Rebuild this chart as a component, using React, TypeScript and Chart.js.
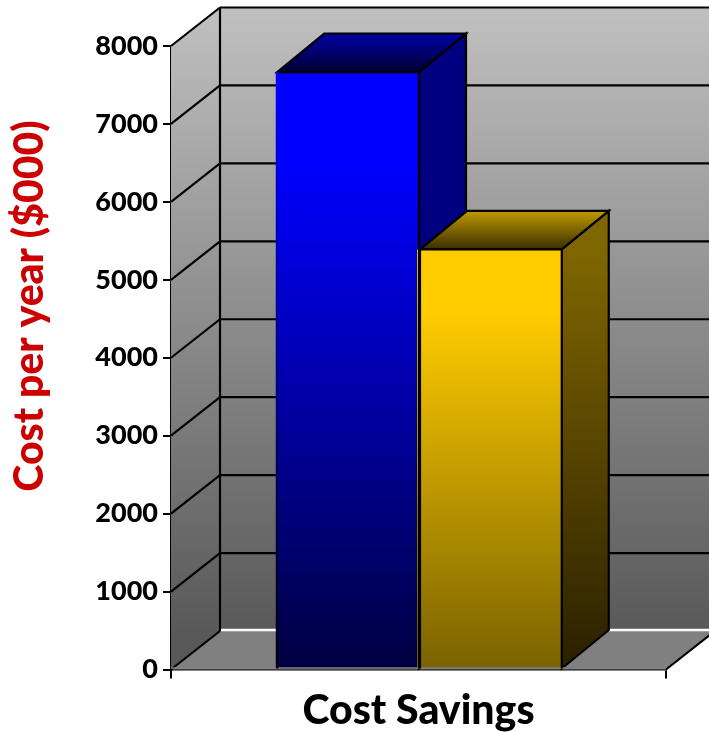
import React, { useEffect, useRef } from "react";
import { Chart, registerables } from "chart.js";

Chart.register(...registerables);

const categories = ["Cost Savings"];
const blueValues = [7666];
const yellowValues = [5390];
const yTicks = [0, 1000, 2000, 3000, 4000, 5000, 6000, 7000, 8000];
const yTitle = "Cost per year ($000)";

const DX = 49;
const DY = 38.5;
const BAR_DX = 47;
const FONT = "Lato, 'Liberation Sans', sans-serif";

const faces = [
  { side: ["#000080", "#000080"], top: ["#0000a8", "#000030"] },
  { side: ["#806600", "#2a2000"], top: ["#c09a00", "#3a2e00"] },
];

const box = (bar: any) => {
  const half = bar.width / 2;
  return { l: bar.x - half + 1.5, r: bar.x + half + 0.5, t: bar.y, b: bar.base };
};

const scene3d = {
  id: "scene3d",
  beforeDatasetsDraw(chart: any) {
    const { ctx, scales } = chart;
    const x = scales.x;
    const y = scales.y;
    const left = x.left;
    const right = x.right;
    const top = y.getPixelForValue(8000);
    const bottom = y.getPixelForValue(0);
    ctx.save();

    let g = ctx.createLinearGradient(0, top - DY, 0, bottom - DY);
    g.addColorStop(0, "#c0c0c0");
    g.addColorStop(1, "#595959");
    ctx.fillStyle = g;
    ctx.fillRect(left + DX, top - DY, right - left, bottom - top);

    ctx.beginPath();
    ctx.moveTo(left, top);
    ctx.lineTo(left + DX, top - DY);
    ctx.lineTo(left + DX, bottom - DY);
    ctx.lineTo(left, bottom);
    ctx.closePath();
    ctx.fill();

    ctx.beginPath();
    ctx.moveTo(left, bottom);
    ctx.lineTo(left + DX, bottom - DY);
    ctx.lineTo(right + DX, bottom - DY);
    ctx.lineTo(right, bottom);
    ctx.closePath();
    ctx.fillStyle = "#808080";
    ctx.fill();

    ctx.lineWidth = 2.2;
    ctx.strokeStyle = "#000";
    for (const v of yTicks) {
      const py = y.getPixelForValue(v);
      ctx.beginPath();
      ctx.moveTo(left, py);
      ctx.lineTo(left + DX, py - DY);
      ctx.stroke();
      if (v > 0) {
        ctx.beginPath();
        ctx.moveTo(left + DX, py - DY);
        ctx.lineTo(right + DX, py - DY);
        ctx.stroke();
      }
    }
    ctx.strokeStyle = "#fff";
    ctx.lineWidth = 2.5;
    ctx.beginPath();
    ctx.moveTo(left + DX + 1, bottom - DY - 1);
    ctx.lineTo(right + DX, bottom - DY - 1);
    ctx.stroke();

    ctx.strokeStyle = "#000";
    ctx.lineWidth = 2.2;
    ctx.beginPath();
    ctx.moveTo(left + DX, top - DY);
    ctx.lineTo(left + DX, bottom - DY);
    ctx.moveTo(right, bottom);
    ctx.lineTo(right + DX, bottom - DY);
    ctx.stroke();

    chart.data.datasets.forEach((_: any, i: number) => {
      const { l, r, t, b } = box(chart.getDatasetMeta(i).data[0]);
      const f = faces[i];

      const sg = ctx.createLinearGradient(0, t, 0, b);
      sg.addColorStop(0, f.side[0]);
      sg.addColorStop(1, f.side[1]);
      ctx.beginPath();
      ctx.moveTo(r, t);
      ctx.lineTo(r + BAR_DX, t - DY);
      ctx.lineTo(r + BAR_DX, b - DY);
      ctx.lineTo(r, b);
      ctx.closePath();
      ctx.fillStyle = sg;
      ctx.fill();
      ctx.stroke();

      const tg = ctx.createLinearGradient(0, t - DY, 0, t);
      tg.addColorStop(0, f.top[0]);
      tg.addColorStop(1, f.top[1]);
      ctx.beginPath();
      ctx.moveTo(l, t);
      ctx.lineTo(l + BAR_DX, t - DY);
      ctx.lineTo(r + BAR_DX, t - DY);
      ctx.lineTo(r, t);
      ctx.closePath();
      ctx.fillStyle = tg;
      ctx.fill();
      ctx.stroke();
    });

    ctx.translate(30, 306);
    ctx.rotate(-Math.PI / 2);
    ctx.fillStyle = "#cc0000";
    ctx.font = `900 41px ${FONT}`;
    ctx.textAlign = "center";
    ctx.textBaseline = "middle";
    ctx.fillText(yTitle, 0, 0);
    ctx.restore();
  },
  afterDatasetsDraw(chart: any) {
    const { ctx, scales } = chart;
    const bottom = scales.y.getPixelForValue(0);
    ctx.save();

    const second = box(chart.getDatasetMeta(1).data[0]);
    const strip = ctx.createLinearGradient(0, second.t, 0, second.b);
    strip.addColorStop(0, "#ffcc00");
    strip.addColorStop(1, "#7a6200");
    ctx.strokeStyle = strip;
    ctx.lineWidth = 1.6;
    ctx.beginPath();
    ctx.moveTo(second.l - 2.2, second.t);
    ctx.lineTo(second.l - 2.2, second.b);
    ctx.stroke();

    ctx.strokeStyle = "#808080";
    ctx.lineWidth = 1.5;
    ctx.beginPath();
    ctx.moveTo(scales.x.left, bottom - 1.5);
    ctx.lineTo(scales.x.right, bottom - 1.5);
    ctx.stroke();

    ctx.strokeStyle = "#000";
    ctx.lineWidth = 2.2;
    chart.data.datasets.forEach((_: any, i: number) => {
      const { l, r, t, b } = box(chart.getDatasetMeta(i).data[0]);
      ctx.beginPath();
      if (i === 0) {
        ctx.moveTo(l, t);
      } else {
        ctx.moveTo(l, b);
        ctx.lineTo(l, t);
      }
      ctx.lineTo(r, t);
      ctx.lineTo(r, b);
      ctx.stroke();
    });
    const first = box(chart.getDatasetMeta(0).data[0]);
    const edge = ctx.createLinearGradient(0, first.t, 0, first.b);
    edge.addColorStop(0, "#0000ff");
    edge.addColorStop(1, "#000000");
    ctx.strokeStyle = edge;
    ctx.beginPath();
    ctx.moveTo(first.l, first.t);
    ctx.lineTo(first.l, first.b);
    ctx.stroke();
    ctx.restore();
  },
};

function frontGradient(from: string, to: string, value: number) {
  return (c: any) => {
    const { chart } = c;
    const y = chart.scales.y;
    if (!chart.chartArea || !y) return from;
    const g = chart.ctx.createLinearGradient(0, y.getPixelForValue(value), 0, y.getPixelForValue(0));
    g.addColorStop(0, from);
    g.addColorStop(0.15, from);
    g.addColorStop(1, to);
    return g;
  };
}

export default function App() {
  const ref = useRef<HTMLCanvasElement | null>(null);
  useEffect(() => {
    if (!ref.current) return;
    const chart = new Chart(ref.current, {
      type: "bar",
      data: {
        labels: categories,
        datasets: [
          {
            data: blueValues,
            backgroundColor: frontGradient("#0000ff", "#000040", blueValues[0]),
            borderWidth: 0,
          },
          {
            data: yellowValues,
            backgroundColor: frontGradient("#ffcc00", "#7a6200", yellowValues[0]),
            borderWidth: 0,
          },
        ],
      },
      options: {
        animation: false,
        responsive: false,
        devicePixelRatio: 1,
        layout: { padding: { top: 46, right: 43, left: 0, bottom: 0 } },
        plugins: { legend: { display: false }, tooltip: { enabled: false } },
        datasets: { bar: { barPercentage: 1, categoryPercentage: 0.5768 } },
        scales: {
          x: {
            afterFit: (s: any) => { s.height = 62.5; },
            border: { color: "#000", width: 2.5 },
            grid: { color: "#000", lineWidth: 2, drawOnChartArea: false, tickLength: 9 },
            ticks: {
              color: "#000",
              padding: 8,
              maxRotation: 0,
              font: { family: FONT, weight: "900", size: 41 },
            },
          },
          y: {
            min: 0,
            max: 8000,
            afterFit: (s: any) => { s.width = 171; },
            afterBuildTicks: (s: any) => { s.ticks = yTicks.map((value) => ({ value })); },
            border: { color: "#000", width: 2.2 },
            grid: { color: "#000", lineWidth: 2, drawOnChartArea: false, tickLength: 8 },
            ticks: {
              color: "#000",
              padding: 5,
              callback: (v: any) => String(v),
              font: { family: FONT, weight: "900", size: 27 },
            },
          },
        },
      },
      plugins: [scene3d],
    } as any);
    return () => chart.destroy();
  }, []);
  return (
    <div style={{ position: "fixed", left: 0, top: 0, width: 709, height: 732, background: "#fff" }}>
      <canvas ref={ref} width={709} height={732} style={{ display: "block" }} />
    </div>
  );
}
